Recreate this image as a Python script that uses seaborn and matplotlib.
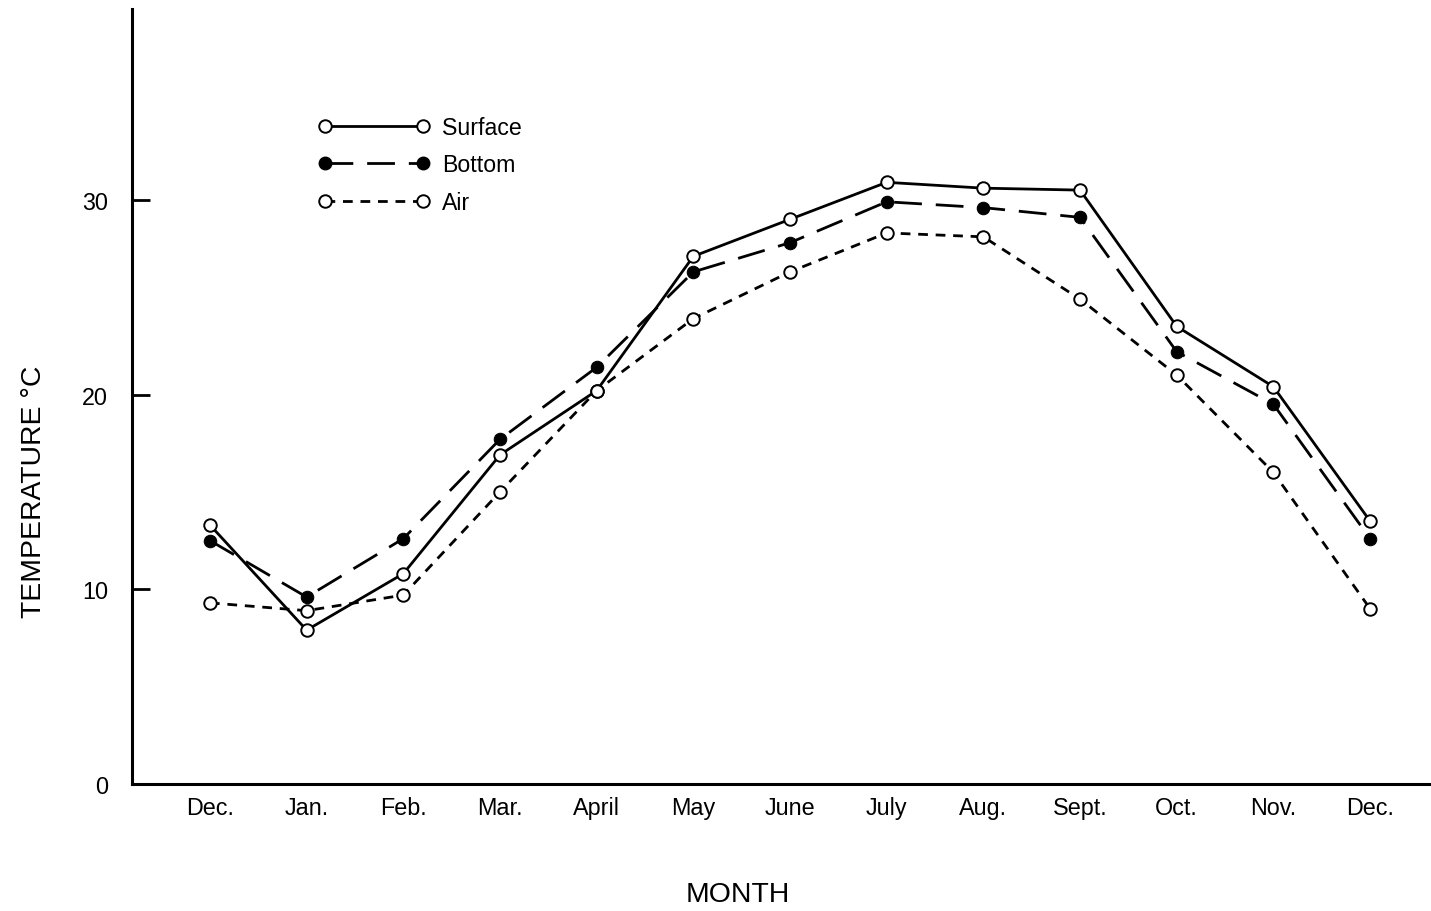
import matplotlib
matplotlib.use("Agg")
import matplotlib.pyplot as plt
from matplotlib.lines import Line2D
import numpy as np
import pandas as pd
import seaborn as sns

months = ["Dec.", "Jan.", "Feb.", "Mar.", "April", "May", "June",
          "July", "Aug.", "Sept.", "Oct.", "Nov.", "Dec."]
surface = [13.3, 7.9, 10.8, 16.9, 20.2, 27.1, 29.0, 30.9, 30.6, 30.5, 23.5, 20.4, 13.5]
bottom = [12.5, 9.6, 12.6, 17.7, 21.4, 26.3, 27.8, 29.9, 29.6, 29.1, 22.2, 19.5, 12.6]
air = [9.3, 8.9, 9.7, 15.0, 20.2, 23.9, 26.3, 28.3, 28.1, 24.9, 21.0, 16.0, 9.0]

df = pd.DataFrame({"pos": np.arange(len(months)), "Surface": surface,
                   "Bottom": bottom, "Air": air})

sns.set_style("ticks")
plt.rcParams["font.family"] = ["Liberation Sans", "DejaVu Sans"]
plt.rcParams["text.color"] = "black"
plt.rcParams["axes.labelcolor"] = "black"
plt.rcParams["xtick.color"] = "black"
plt.rcParams["ytick.color"] = "black"

fig = plt.figure(figsize=(14.31, 9.12), dpi=100)
ax = fig.add_axes([0.0922, 0.1393, 0.9078, 0.8497])

lw = 2.0
ms = 9
sns.lineplot(data=df, x="pos", y="Surface", ax=ax, color="black", lw=lw,
             marker="o", markersize=ms, markerfacecolor="white",
             markeredgecolor="black", markeredgewidth=1.4)
sns.lineplot(data=df, x="pos", y="Bottom", ax=ax, color="black", lw=lw,
             dashes=(10, 5), marker="o", markersize=ms,
             markerfacecolor="black", markeredgecolor="black")
sns.lineplot(data=df, x="pos", y="Air", ax=ax, color="black", lw=lw,
             dashes=(3.5, 2.8), marker="o", markersize=ms,
             markerfacecolor="white", markeredgecolor="black",
             markeredgewidth=1.4)

ax.set_xlim(-0.807, 12.63)
ax.set_ylim(0, 39.8)
ax.set_yticks([0, 10, 20, 30])
ax.set_xticks(df["pos"])
ax.set_xticklabels(months)

sns.despine(ax=ax)
for s in ["left", "bottom"]:
    ax.spines[s].set_linewidth(2.2)
    ax.spines[s].set_color("black")
ax.tick_params(axis="y", direction="in", length=13, width=2, pad=17,
               labelsize=16.8)
ax.tick_params(axis="x", length=0, pad=9, labelsize=16.8)

ax.set_xlabel("MONTH", fontsize=20.4)
ax.xaxis.set_label_coords(0.466, -0.125)
ax.set_ylabel("TEMPERATURE °C", fontsize=20.4)
ax.yaxis.set_label_coords(-0.065, 0.378)

handles = [
    Line2D([], [], color="black", lw=lw, marker="o", markersize=ms,
           markerfacecolor="white", markeredgecolor="black", markeredgewidth=1.4),
    Line2D([], [], color="black", lw=lw, dashes=(10, 5), marker="o",
           markersize=ms, markerfacecolor="black", markeredgecolor="black"),
    Line2D([], [], color="black", lw=lw, dashes=(3.5, 2.8), marker="o",
           markersize=ms, markerfacecolor="white", markeredgecolor="black",
           markeredgewidth=1.4),
]
ax.legend(handles, ["Surface", "Bottom", "Air"], loc="upper left",
          bbox_to_anchor=(0.1345, 0.877), frameon=False, fontsize=16.7,
          handlelength=4.83, numpoints=2, labelspacing=0.62, borderpad=0,
          handletextpad=0.5)

fig.savefig("out.png", dpi=100)
